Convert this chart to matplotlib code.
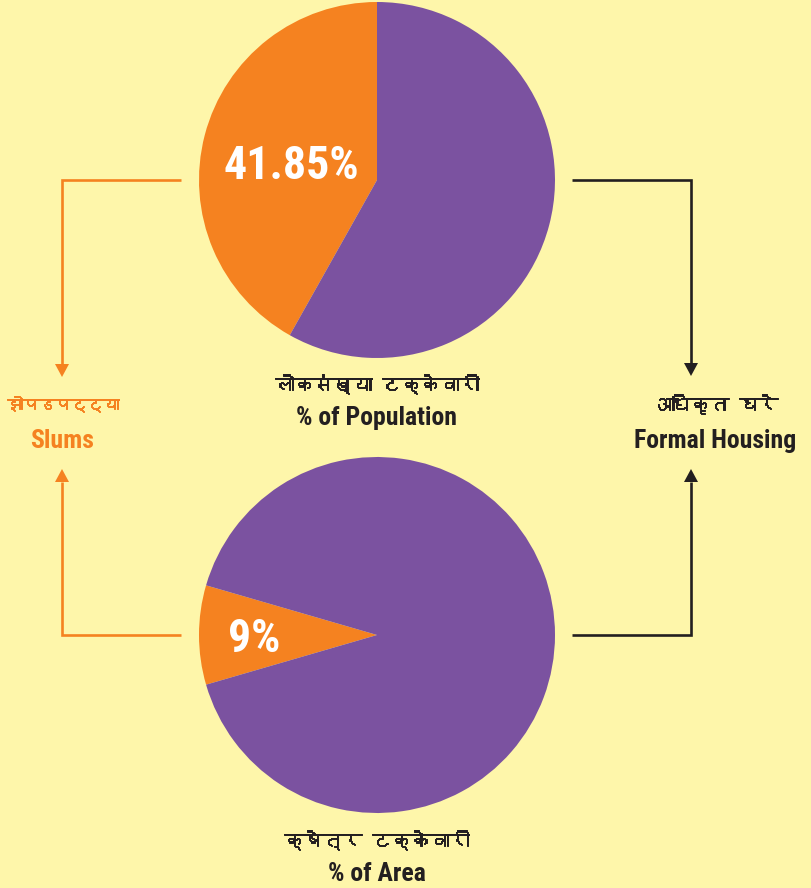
import matplotlib as mpl

mpl.use("Agg")
import matplotlib.font_manager as fm
import matplotlib.patheffects as pe
import matplotlib.pyplot as plt
from matplotlib.ft2font import FT2Font
import numpy as np

# data
POP_LABELS = ["Slums", "Formal Housing"]
POP_SHARE = [41.85, 58.15]
AREA_SHARE = [9, 91]
POP_TEXT = "41.85%"
AREA_TEXT = "9%"

BG = "#FEF6AA"
ORANGE = "#F58220"
PURPLE = "#7B52A0"
INK = "#231F20"

W, H = 811, 888


def find_font(names):
    available = {f.name for f in fm.fontManager.ttflist}
    for n in names:
        if n in available:
            return n
    return "DejaVu Sans"


def find_devanagari():
    seen = set()
    for f in fm.fontManager.ttflist:
        if f.name in seen:
            continue
        seen.add(f.name)
        try:
            cmap = FT2Font(f.fname).get_charmap()
        except Exception:
            continue
        if 0x0915 in cmap and 0x094D in cmap:
            return f.name
    return None


LATIN = find_font(["Liberation Sans Narrow", "Roboto Condensed", "Liberation Sans", "DejaVu Sans"])
DEVA = find_devanagari()
FAMILY = [LATIN] + ([DEVA] if DEVA else []) + ["DejaVu Sans"]
DEVA_FAMILY = ([DEVA] if DEVA else []) + [LATIN, "DejaVu Sans"]


def py(y):
    # pixel row (from top) -> data y
    return H - y


fig = plt.figure(figsize=(W / 100, H / 100), dpi=100)
fig.patch.set_facecolor(BG)
ax = fig.add_axes([0, 0, 1, 1])
ax.set_facecolor(BG)

R = 178
top_c = (377, py(180))
bot_c = (377, py(635))

w_top, _ = ax.pie(POP_SHARE, colors=[ORANGE, PURPLE], startangle=90,
                  counterclock=True, center=top_c, radius=R,
                  wedgeprops=dict(linewidth=0))
half = AREA_SHARE[0] / sum(AREA_SHARE) * 180
w_bot, _ = ax.pie(AREA_SHARE, colors=[ORANGE, PURPLE], startangle=180 - half,
                  counterclock=True, center=bot_c, radius=R,
                  wedgeprops=dict(linewidth=0))


def wedge_label(wedge, frac, text, dy=0):
    ang = np.deg2rad((wedge.theta1 + wedge.theta2) / 2)
    cx, cy = wedge.center
    r = wedge.r * frac
    ax.text(cx + r * np.cos(ang), cy + r * np.sin(ang) + dy, text,
            ha="center", va="center", color="white", fontsize=33,
            fontweight="bold", family=FAMILY)


wedge_label(w_top[0], 0.5, POP_TEXT, dy=-9)
wedge_label(w_bot[0], 0.69, AREA_TEXT, dy=-4)

ax.set_xlim(0, W)
ax.set_ylim(0, H)
ax.set_aspect("equal")
ax.set_axis_off()


def elbow(x0, y0, xc, tip_y, color):
    head_l, head_w = 13, 7
    y0, tip_y = py(y0), py(tip_y)
    sgn = 1 if tip_y > y0 else -1
    base = tip_y - sgn * head_l
    ax.plot([x0, xc, xc], [y0, y0, base], color=color, lw=1.9,
            solid_joinstyle="miter", solid_capstyle="butt")
    ax.fill([xc - head_w, xc + head_w, xc], [base, base, tip_y],
            color=color, lw=0)


elbow(181, 180, 62, 377, ORANGE)
elbow(181, 635, 62, 469, ORANGE)
elbow(572, 180, 691, 376, INK)
elbow(572, 635, 691, 469, INK)


def label(x, y, text, color, size, deva=False):
    t = ax.text(x, py(y), text, ha="center", va="center", color=color,
                fontsize=size, fontweight="bold",
                family=DEVA_FAMILY if deva else FAMILY)
    if deva:
        t.set_path_effects([pe.withStroke(linewidth=0.7, foreground=color)])


label(63, 404, "झोपडपट्ट्या", ORANGE, 11.5, deva=True)
label(62, 441, "Slums", ORANGE, 18.5)
label(715, 404, "अधिकृत घरे", INK, 14, deva=True)
label(715, 441, "Formal Housing", INK, 18.5)
label(377, 384, "लोकसंख्या टक्केवारी", INK, 14, deva=True)
label(377, 418, "% of Population", INK, 18.5)
label(377, 840, "क्षेत्र टक्केवारी", INK, 14, deva=True)
label(377, 874, "% of Area", INK, 18.5)

fig.savefig("out.png", dpi=100, facecolor=BG)
